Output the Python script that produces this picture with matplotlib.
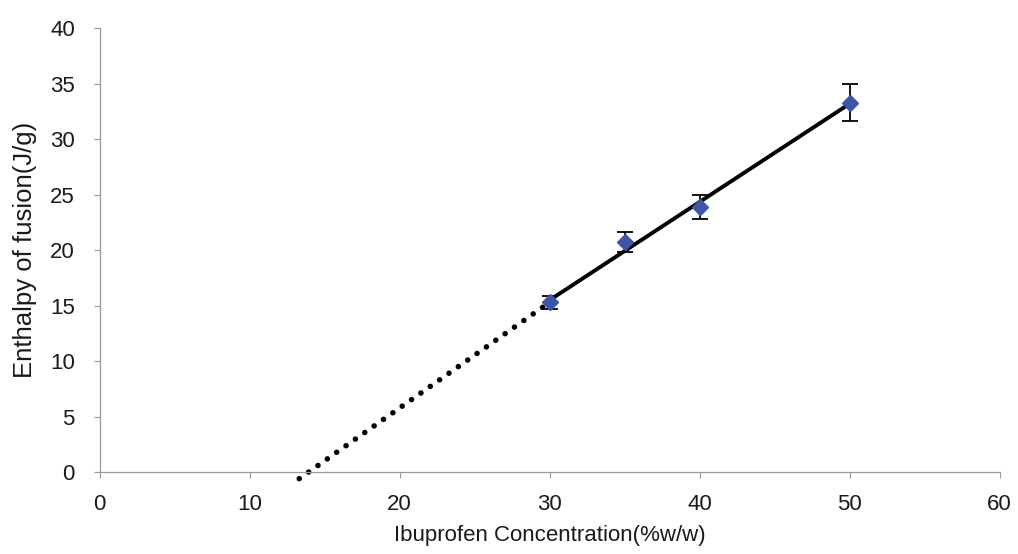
import matplotlib
matplotlib.use("Agg")
import matplotlib.pyplot as plt

plt.rcParams['font.family'] = ['Liberation Sans', 'DejaVu Sans']

conc = [30, 35, 40, 50]
enthalpy = [15.3, 20.7, 23.9, 33.3]
err = [0.6, 0.9, 1.1, 1.7]

trend_x = [30, 50]
trend_y = [15.5, 33.2]
extrap_x = [13.3, 30]
extrap_y = [-0.6, 15.3]

xticks = [0, 10, 20, 30, 40, 50, 60]
yticks = [0, 5, 10, 15, 20, 25, 30, 35, 40]

fig = plt.figure(figsize=(10.18, 5.54), dpi=100)
ax = fig.add_axes([0.098, 0.148, 0.884, 0.801])

ax.plot(extrap_x, extrap_y, linestyle=(0, (0.01, 2.05)), color='black', lw=4.0,
        dash_capstyle='round', solid_capstyle='round', zorder=2, clip_on=False)
ax.plot(trend_x, trend_y, color='black', lw=2.8, zorder=3)
ax.errorbar(conc, enthalpy, yerr=err, fmt='D', color='#3f55a8', ms=8,
            ecolor='black', elinewidth=1.3, capsize=6, capthick=1.3, zorder=4)

ax.set_xlim(0, 60)
ax.set_ylim(0, 40)
ax.set_xticks(xticks)
ax.set_yticks(yticks)
for s in ['top', 'right']:
    ax.spines[s].set_visible(False)
for s in ['left', 'bottom']:
    ax.spines[s].set_color('#999999')
    ax.spines[s].set_linewidth(0.9)
ax.tick_params(axis='both', colors='#999999', length=4, width=0.8,
               labelcolor='#1a1a1a', labelsize=16)
ax.tick_params(axis='x', pad=12)
ax.tick_params(axis='y', pad=14)

ax.set_xlabel('Ibuprofen Concentration(%w/w)', fontsize=16, color='#1a1a1a', labelpad=7)
ax.set_ylabel('Enthalpy of fusion(J/g)', fontsize=18.5, color='#1a1a1a', labelpad=9)

fig.savefig('out.png', dpi=100)
